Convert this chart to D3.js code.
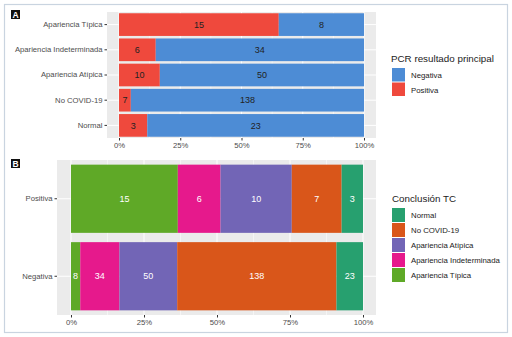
<!DOCTYPE html>
<html>
<head>
<meta charset="utf-8">
<script src="https://cdn.jsdelivr.net/npm/d3@7"></script>
<style>
  body { margin: 0; background: #fff; }
  svg { font-family: "Liberation Sans", Arial, sans-serif; }
</style>
</head>
<body>
<div id="container"></div>
<script>
/* DATA */
const ctCategories = ["Apariencia Típica", "Apariencia Indeterminada", "Apariencia Atípica", "No COVID-19", "Normal"];
const pcrGroups = ["Positiva", "Negativa"];
const positivaCounts = [15, 6, 10, 7, 3];
const negativaCounts = [8, 34, 50, 138, 23];
const pctTicks = [0, 0.25, 0.5, 0.75, 1];

const pcrColors = { Negativa: "#4d8cd5", Positiva: "#ef493d" };
const ctColors = {
  "Normal": "#27a06f",
  "No COVID-19": "#d9561a",
  "Apariencia Atípica": "#7265b6",
  "Apariencia Indeterminada": "#e6198c",
  "Apariencia Típica": "#5fa927"
};
const ctLegendOrder = ["Normal", "No COVID-19", "Apariencia Atípica", "Apariencia Indeterminada", "Apariencia Típica"];

/* CONSTANTS */
const width = 512, height = 337;
const svg = d3.select("#container").append("svg")
  .attr("width", width).attr("height", height);

// outer frame
svg.append("rect")
  .attr("x", 4.5).attr("y", 4.5).attr("width", 503).attr("height", 328)
  .attr("fill", "none").attr("stroke", "#c9d4e0").attr("stroke-width", 1.2);

function panelTag(x, y, letter) {
  svg.append("rect").attr("x", x).attr("y", y).attr("width", 9).attr("height", 9).attr("fill", "#111");
  svg.append("text").attr("x", x + 4.5).attr("y", y + 7.8).attr("text-anchor", "middle")
    .attr("fill", "#fff").attr("font-size", 8.5).attr("font-weight", "bold").text(letter);
}

function drawPanel(opts) {
  const { panel, cats, stacks, keys, colors, labelColor, pad } = opts;
  const x = d3.scaleLinear().domain([0, 1]).range([opts.x0, opts.x1]);
  const y = d3.scaleBand().domain(cats).range([panel.y, panel.y + panel.h]).paddingInner(pad).paddingOuter(pad / 2);

  const g = svg.append("g");
  g.append("rect").attr("x", panel.x).attr("y", panel.y).attr("width", panel.w).attr("height", panel.h).attr("fill", "#ebebeb");

  // grid
  const minor = [0.125, 0.375, 0.625, 0.875];
  g.selectAll("line.minor").data(minor).join("line")
    .attr("x1", d => x(d)).attr("x2", d => x(d)).attr("y1", panel.y).attr("y2", panel.y + panel.h)
    .attr("stroke", "#fff").attr("stroke-width", 0.5);
  g.selectAll("line.major").data(pctTicks).join("line")
    .attr("x1", d => x(d)).attr("x2", d => x(d)).attr("y1", panel.y).attr("y2", panel.y + panel.h)
    .attr("stroke", "#fff").attr("stroke-width", 1);
  g.selectAll("line.hgrid").data(cats).join("line")
    .attr("x1", panel.x).attr("x2", panel.x + panel.w)
    .attr("y1", d => y(d) + y.bandwidth() / 2).attr("y2", d => y(d) + y.bandwidth() / 2)
    .attr("stroke", "#fff").attr("stroke-width", 1);

  // stacked bars (proportions)
  cats.forEach((c, i) => {
    const vals = stacks[i];
    const total = d3.sum(vals);
    let cum = 0;
    vals.forEach((v, k) => {
      const a = cum / total, b = (cum + v) / total;
      cum += v;
      g.append("rect")
        .attr("x", x(a)).attr("y", y(c)).attr("width", x(b) - x(a)).attr("height", y.bandwidth())
        .attr("fill", colors[keys[k]]);
      g.append("text")
        .attr("x", (x(a) + x(b)) / 2).attr("y", y(c) + y.bandwidth() / 2 + 3.2)
        .attr("text-anchor", "middle").attr("font-size", 9).attr("fill", labelColor)
        .text(v);
    });
  });

  // axes
  const xAxis = d3.axisBottom(x).tickValues(pctTicks).tickFormat(d3.format(".0%")).tickSize(2.5).tickPadding(2);
  const ax = svg.append("g").attr("transform", `translate(0,${panel.y + panel.h})`).call(xAxis);
  const yAxis = d3.axisLeft(y).tickSize(2.5).tickPadding(2);
  const ay = svg.append("g").attr("transform", `translate(${panel.x},0)`).call(yAxis);
  [ax, ay].forEach(a => {
    a.select(".domain").remove();
    a.selectAll(".tick line").attr("stroke", "#333");
    a.selectAll(".tick text").attr("fill", "#4d4d4d").attr("font-size", 7.7).attr("font-family", "Liberation Sans, Arial, sans-serif");
  });
}

/* PANEL A */
panelTag(11, 10, "A");
drawPanel({
  panel: { x: 107, y: 12, w: 269, h: 126 },
  x0: 119, x1: 364,
  cats: ctCategories,
  stacks: ctCategories.map((c, i) => [positivaCounts[i], negativaCounts[i]]),
  keys: ["Positiva", "Negativa"],
  colors: pcrColors,
  labelColor: "#222",
  pad: 0.1
});

// legend A
const legA = svg.append("g").attr("transform", "translate(391,0)");
legA.append("text").attr("x", 0).attr("y", 62).attr("font-size", 9.8).attr("fill", "#222").text("PCR resultado principal");
["Negativa", "Positiva"].forEach((k, i) => {
  legA.append("rect").attr("x", 1).attr("y", 68 + i * 14.5).attr("width", 13).attr("height", 13.5).attr("fill", pcrColors[k]);
  legA.append("text").attr("x", 20).attr("y", 78 + i * 14.5).attr("font-size", 7.8).attr("fill", "#222").text(k);
});

/* PANEL B */
panelTag(11, 159, "B");
drawPanel({
  panel: { x: 57, y: 160, w: 319, h: 155 },
  x0: 71, x1: 363,
  cats: pcrGroups,
  stacks: [
    ctCategories.map((c, i) => positivaCounts[i]),
    ctCategories.map((c, i) => negativaCounts[i])
  ],
  keys: ctCategories,
  colors: ctColors,
  labelColor: "#fff",
  pad: 0.12
});

// legend B
const legB = svg.append("g").attr("transform", "translate(391,0)");
legB.append("text").attr("x", 1).attr("y", 202).attr("font-size", 9.8).attr("fill", "#222").text("Conclusión TC");
ctLegendOrder.forEach((k, i) => {
  legB.append("rect").attr("x", 1).attr("y", 208 + i * 15).attr("width", 13).attr("height", 14).attr("fill", ctColors[k]);
  legB.append("text").attr("x", 20).attr("y", 218 + i * 15).attr("font-size", 7.8).attr("fill", "#222").text(k);
});
</script>
</body>
</html>
